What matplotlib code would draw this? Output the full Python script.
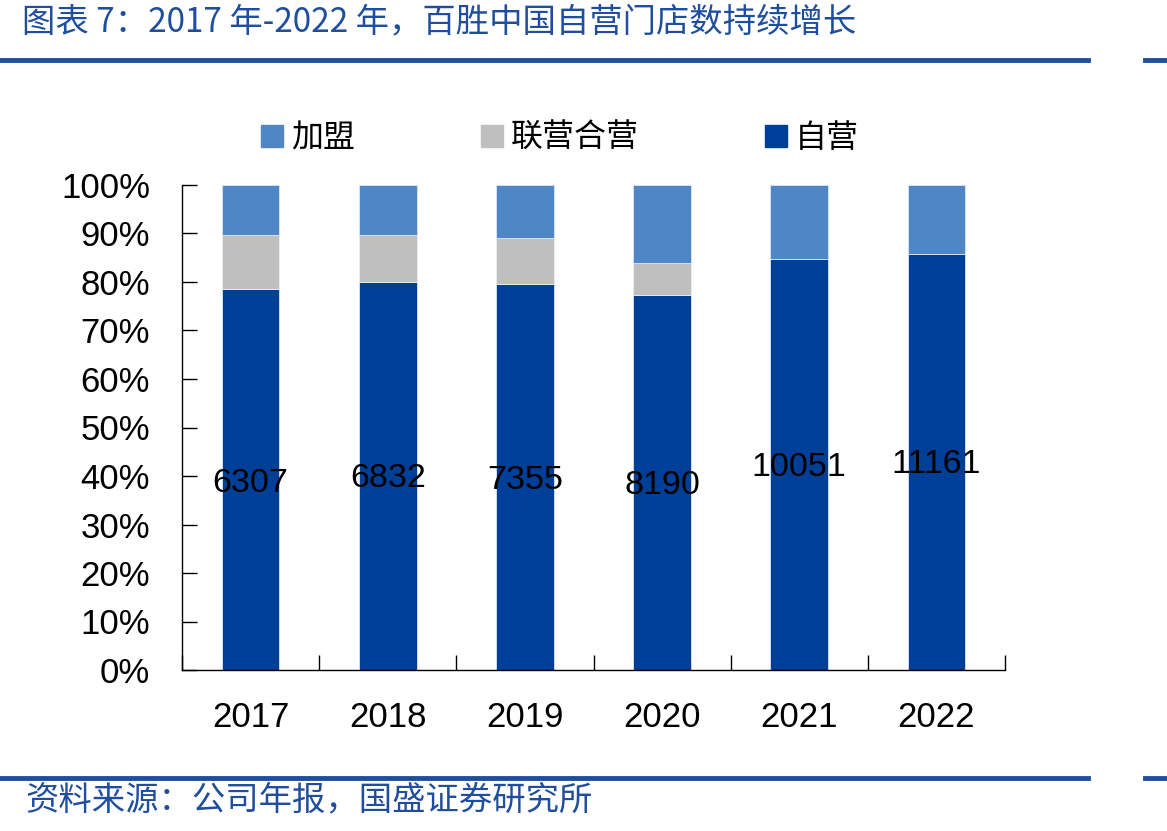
import matplotlib
matplotlib.use("Agg")
import matplotlib.pyplot as plt
from matplotlib.patches import Rectangle
from matplotlib.lines import Line2D
import numpy as np

plt.rcParams['font.family'] = ['Liberation Sans', 'Noto Sans CJK SC', 'DejaVu Sans']

years = ['2017', '2018', '2019', '2020', '2021', '2022']
self_op = [78.6, 80.0, 79.6, 77.3, 84.7, 85.8]          # 自营 %
joint_top = [89.7, 89.7, 89.1, 83.9, 84.7, 85.8]        # 联营合营 cumulative top %
store_counts = ['6307', '6832', '7355', '8190', '10051', '11161']
label_pos = [38.4, 39.4, 39.0, 38.0, 41.7, 42.3]        # label height %

joint = [t - s for t, s in zip(joint_top, self_op)]
franchise = [100 - t for t in joint_top]

c_self = '#003F98'
c_joint = '#BFBFBF'
c_fr = '#4F86C6'
c_title = '#1F4E9E'

W, H = 1167, 831
fig = plt.figure(figsize=(W / 100, H / 100), dpi=100)

# axes: x 182..1005, y 670..185
ax = fig.add_axes([182 / W, (H - 670) / H, (1005 - 182) / W, 485 / H])
x = np.arange(len(years))
bw = 0.42
ax.bar(x, self_op, bw, color=c_self, edgecolor='#dce6f4', linewidth=0.6, zorder=2)
ax.bar(x, joint, bw, bottom=self_op, color=c_joint, edgecolor='#eeeeee', linewidth=0.6, zorder=2)
ax.bar(x, franchise, bw, bottom=joint_top, color=c_fr, edgecolor='#dce6f4', linewidth=0.6, zorder=2)

for xi, lab, yp in zip(x, store_counts, label_pos):
    ax.text(xi, yp, lab, ha='center', va='center', fontsize=24.5, color='black', zorder=3)

ax.set_xlim(-0.5, 5.5)
ax.set_ylim(0, 100)
ax.spines['top'].set_visible(False)
ax.spines['right'].set_visible(False)
ax.spines['left'].set_linewidth(1.0)
ax.spines['bottom'].set_linewidth(1.0)
ax.set_yticks(np.arange(0, 101, 10))
ax.set_yticklabels([f'{v}%' for v in range(0, 101, 10)], fontsize=25)
ax.tick_params(axis='y', direction='in', length=11, width=1, pad=23)
ax.set_xticks(x)
ax.set_xticklabels(years, fontsize=25)
ax.tick_params(axis='x', length=0, pad=22)
ax.set_xticks(np.arange(-0.5, 5.6, 1), minor=True)
ax.tick_params(axis='x', which='minor', direction='in', length=11, width=1)

# legend
handles = [Rectangle((0, 0), 1, 1, color=c_fr),
           Rectangle((0, 0), 1, 1, color=c_joint),
           Rectangle((0, 0), 1, 1, color=c_self)]
fig.legend(handles, ['加盟', '联营合营', '自营'], loc='center',
           bbox_to_anchor=(560 / W, (H - 138) / H), ncol=3, frameon=False,
           prop={'family': ['Noto Sans CJK SC'], 'size': 23},
           handlelength=0.68, handleheight=0.68, handletextpad=0.25, columnspacing=3.95)

# title & source
fig.text(22 / W, (H - 22) / H, '图表 7：2017 年-2022 年，百胜中国自营门店数持续增长',
         ha='left', va='center', fontsize=24, color=c_title, style='italic',
         family=['Noto Sans CJK SC', 'DejaVu Sans'])
fig.text(25 / W, (H - 800) / H, '资料来源：公司年报，国盛证券研究所',
         ha='left', va='center', fontsize=24, color=c_title, style='italic',
         family=['Noto Sans CJK SC', 'DejaVu Sans'])

for yy in (60, 778):
    fig.add_artist(Line2D([0, 1088 / W], [(H - yy) / H] * 2, color=c_title, lw=3.5))
    fig.add_artist(Line2D([1145 / W, 1], [(H - yy) / H] * 2, color=c_title, lw=3.5))

fig.savefig('out.png', dpi=100)
